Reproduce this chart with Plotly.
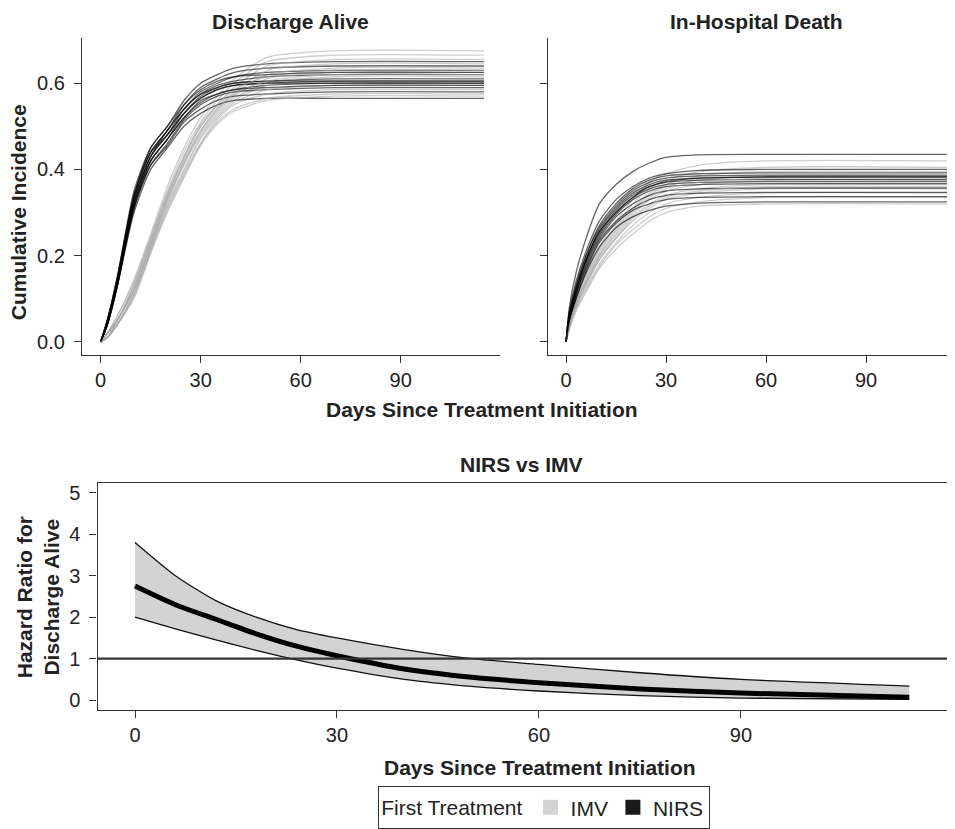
import plotly.graph_objects as go

FONT = "Liberation Sans, Arial, Helvetica, sans-serif"
PAGE_W, PAGE_H = 955, 829
BODY = 8  # default page margin around the plot div
W, H = PAGE_W - BODY, PAGE_H - BODY

# ---------------- data ----------------
x_ticks = [0, 30, 60, 90]
ci_ticks = [0.0, 0.2, 0.4, 0.6]
hr_ticks = [0, 1, 2, 3, 4, 5]

panel_titles = ["Discharge Alive", "In-Hospital Death"]
groups = ["IMV", "NIRS"]

# Discharge alive: cumulative incidence per imputation
days_discharge = [0, 2, 5, 10, 15, 20, 25, 30, 35, 40, 50, 70, 115]
nirs_discharge = [
    [0, 0.05, 0.15, 0.35, 0.45, 0.50, 0.56, 0.60, 0.62, 0.635, 0.645, 0.65, 0.65],
    [0, 0.05, 0.14, 0.34, 0.44, 0.49, 0.55, 0.59, 0.61, 0.625, 0.635, 0.64, 0.64],
    [0, 0.04, 0.14, 0.33, 0.43, 0.49, 0.54, 0.58, 0.60, 0.615, 0.625, 0.63, 0.63],
    [0, 0.05, 0.15, 0.34, 0.44, 0.48, 0.54, 0.575, 0.595, 0.605, 0.615, 0.62, 0.62],
    [0, 0.04, 0.13, 0.33, 0.43, 0.48, 0.53, 0.57, 0.59, 0.60, 0.605, 0.61, 0.61],
    [0, 0.05, 0.14, 0.32, 0.42, 0.47, 0.53, 0.565, 0.585, 0.595, 0.60, 0.605, 0.605],
    [0, 0.04, 0.13, 0.32, 0.42, 0.47, 0.52, 0.555, 0.575, 0.585, 0.595, 0.60, 0.60],
    [0, 0.04, 0.14, 0.31, 0.41, 0.46, 0.515, 0.55, 0.57, 0.58, 0.585, 0.59, 0.59],
    [0, 0.04, 0.13, 0.31, 0.41, 0.455, 0.51, 0.54, 0.56, 0.57, 0.575, 0.58, 0.58],
    [0, 0.04, 0.13, 0.30, 0.40, 0.45, 0.50, 0.53, 0.55, 0.56, 0.565, 0.565, 0.565],
    [0, 0.05, 0.14, 0.33, 0.44, 0.49, 0.54, 0.575, 0.59, 0.60, 0.605, 0.605, 0.605],
    [0, 0.04, 0.14, 0.32, 0.43, 0.48, 0.53, 0.565, 0.585, 0.595, 0.60, 0.60, 0.60],
    [0, 0.05, 0.15, 0.34, 0.45, 0.50, 0.55, 0.585, 0.605, 0.615, 0.62, 0.625, 0.625],
    [0, 0.04, 0.13, 0.31, 0.42, 0.47, 0.52, 0.56, 0.575, 0.585, 0.59, 0.595, 0.595],
]
imv_discharge = [
    [0, 0.02, 0.06, 0.145, 0.25, 0.36, 0.45, 0.52, 0.57, 0.61, 0.66, 0.675, 0.675],
    [0, 0.02, 0.06, 0.14, 0.245, 0.35, 0.44, 0.51, 0.56, 0.60, 0.65, 0.665, 0.665],
    [0, 0.02, 0.05, 0.135, 0.24, 0.345, 0.43, 0.505, 0.55, 0.59, 0.64, 0.655, 0.655],
    [0, 0.02, 0.05, 0.13, 0.235, 0.34, 0.425, 0.50, 0.545, 0.58, 0.63, 0.645, 0.645],
    [0, 0.01, 0.05, 0.125, 0.23, 0.335, 0.42, 0.49, 0.54, 0.575, 0.62, 0.635, 0.635],
    [0, 0.02, 0.05, 0.12, 0.225, 0.33, 0.415, 0.485, 0.535, 0.57, 0.61, 0.625, 0.625],
    [0, 0.01, 0.05, 0.12, 0.22, 0.325, 0.41, 0.48, 0.53, 0.565, 0.60, 0.615, 0.615],
    [0, 0.01, 0.04, 0.115, 0.22, 0.32, 0.40, 0.475, 0.525, 0.56, 0.595, 0.605, 0.605],
    [0, 0.01, 0.04, 0.11, 0.215, 0.315, 0.395, 0.47, 0.52, 0.555, 0.585, 0.595, 0.595],
    [0, 0.01, 0.04, 0.11, 0.21, 0.31, 0.39, 0.46, 0.515, 0.55, 0.575, 0.585, 0.585],
    [0, 0.01, 0.04, 0.105, 0.21, 0.305, 0.385, 0.46, 0.51, 0.54, 0.565, 0.575, 0.575],
    [0, 0.01, 0.04, 0.10, 0.205, 0.30, 0.38, 0.455, 0.505, 0.535, 0.56, 0.57, 0.57],
    [0, 0.02, 0.05, 0.13, 0.235, 0.34, 0.43, 0.50, 0.55, 0.585, 0.615, 0.63, 0.63],
    [0, 0.01, 0.05, 0.12, 0.225, 0.33, 0.415, 0.49, 0.54, 0.575, 0.605, 0.62, 0.62],
]

# In-hospital death: cumulative incidence per imputation
days_death = [0, 1, 3, 6, 10, 15, 20, 25, 30, 40, 60, 115]
nirs_death = [
    [0, 0.08, 0.16, 0.24, 0.32, 0.365, 0.395, 0.415, 0.428, 0.434, 0.435, 0.435],
    [0, 0.07, 0.14, 0.21, 0.28, 0.33, 0.36, 0.38, 0.39, 0.398, 0.40, 0.40],
    [0, 0.07, 0.13, 0.20, 0.27, 0.32, 0.355, 0.375, 0.385, 0.39, 0.392, 0.392],
    [0, 0.06, 0.13, 0.20, 0.265, 0.315, 0.35, 0.37, 0.38, 0.385, 0.387, 0.387],
    [0, 0.06, 0.12, 0.19, 0.26, 0.31, 0.345, 0.365, 0.375, 0.38, 0.382, 0.382],
    [0, 0.06, 0.12, 0.19, 0.255, 0.305, 0.34, 0.36, 0.37, 0.375, 0.377, 0.377],
    [0, 0.06, 0.12, 0.185, 0.25, 0.30, 0.335, 0.355, 0.365, 0.37, 0.372, 0.372],
    [0, 0.05, 0.11, 0.18, 0.245, 0.295, 0.33, 0.35, 0.36, 0.365, 0.367, 0.367],
    [0, 0.05, 0.11, 0.175, 0.24, 0.29, 0.32, 0.34, 0.35, 0.355, 0.357, 0.357],
    [0, 0.05, 0.11, 0.17, 0.235, 0.28, 0.31, 0.33, 0.34, 0.345, 0.347, 0.347],
    [0, 0.05, 0.10, 0.165, 0.23, 0.275, 0.305, 0.32, 0.33, 0.335, 0.337, 0.337],
    [0, 0.05, 0.10, 0.16, 0.22, 0.265, 0.29, 0.305, 0.315, 0.322, 0.325, 0.325],
    [0, 0.06, 0.12, 0.19, 0.255, 0.30, 0.335, 0.36, 0.372, 0.38, 0.383, 0.383],
]
imv_death = [
    [0, 0.05, 0.10, 0.16, 0.22, 0.28, 0.33, 0.37, 0.39, 0.41, 0.42, 0.42],
    [0, 0.05, 0.10, 0.155, 0.215, 0.27, 0.32, 0.355, 0.375, 0.395, 0.405, 0.405],
    [0, 0.04, 0.09, 0.15, 0.21, 0.265, 0.31, 0.345, 0.365, 0.385, 0.395, 0.395],
    [0, 0.04, 0.09, 0.145, 0.205, 0.26, 0.305, 0.34, 0.36, 0.375, 0.385, 0.385],
    [0, 0.04, 0.09, 0.14, 0.20, 0.25, 0.295, 0.33, 0.35, 0.365, 0.375, 0.375],
    [0, 0.04, 0.085, 0.135, 0.195, 0.245, 0.29, 0.32, 0.34, 0.355, 0.365, 0.365],
    [0, 0.04, 0.08, 0.13, 0.19, 0.24, 0.28, 0.31, 0.33, 0.345, 0.355, 0.355],
    [0, 0.03, 0.08, 0.125, 0.18, 0.23, 0.27, 0.30, 0.32, 0.335, 0.345, 0.345],
    [0, 0.03, 0.075, 0.12, 0.175, 0.225, 0.26, 0.29, 0.31, 0.325, 0.335, 0.335],
    [0, 0.03, 0.07, 0.115, 0.17, 0.215, 0.25, 0.28, 0.30, 0.315, 0.32, 0.32],
    [0, 0.04, 0.09, 0.14, 0.20, 0.255, 0.30, 0.335, 0.355, 0.37, 0.38, 0.38],
    [0, 0.04, 0.085, 0.135, 0.19, 0.24, 0.285, 0.315, 0.335, 0.35, 0.36, 0.36],
]

# Hazard ratio NIRS vs IMV for discharge alive
days_hr = [0, 6, 12, 18, 24, 30, 40, 50, 60, 75, 90, 115]
hr_est = [2.75, 2.3, 1.95, 1.6, 1.3, 1.07, 0.75, 0.55, 0.42, 0.27, 0.17, 0.07]
hr_lower = [2.0, 1.72, 1.45, 1.2, 0.97, 0.77, 0.5, 0.33, 0.22, 0.11, 0.05, 0.02]
hr_upper = [3.8, 3.0, 2.4, 2.0, 1.7, 1.5, 1.22, 1.0, 0.86, 0.66, 0.5, 0.34]

# ---------------- styling ----------------
NIRS_LINE = "rgba(0,0,0,0.6)"
IMV_LINE = "rgba(165,165,165,0.55)"
AX = "#333333"
SMOOTH = 0.7


def px(x):
    # page pixel -> paper fraction
    return (x - BODY) / W


def py(y):
    return 1 - (y - BODY) / H


def curve(xs, ys, color, xa, ya):
    return go.Scatter(x=xs, y=ys, mode="lines",
                      line=dict(color=color, width=1.3, shape="spline", smoothing=SMOOTH),
                      showlegend=False, hoverinfo="skip", xaxis=xa, yaxis=ya)


fig = go.Figure()

# top-left panel
for i in range(max(len(nirs_discharge), len(imv_discharge))):
    if i < len(imv_discharge):
        fig.add_trace(curve(days_discharge, imv_discharge[i], IMV_LINE, "x", "y"))
    if i < len(nirs_discharge):
        fig.add_trace(curve(days_discharge, nirs_discharge[i], NIRS_LINE, "x", "y"))

# top-right panel
for i in range(max(len(nirs_death), len(imv_death))):
    if i < len(imv_death):
        fig.add_trace(curve(days_death, imv_death[i], IMV_LINE, "x2", "y2"))
    if i < len(nirs_death):
        fig.add_trace(curve(days_death, nirs_death[i], NIRS_LINE, "x2", "y2"))

# bottom panel: CI band and estimate
fig.add_trace(go.Scatter(x=days_hr, y=hr_lower, mode="lines",
                         line=dict(color="#111111", width=1.3, shape="spline", smoothing=SMOOTH),
                         showlegend=False, xaxis="x3", yaxis="y3"))
fig.add_trace(go.Scatter(x=days_hr, y=hr_upper, mode="lines", fill="tonexty",
                         fillcolor="#d3d3d3",
                         line=dict(color="#111111", width=1.3, shape="spline", smoothing=SMOOTH),
                         showlegend=False, xaxis="x3", yaxis="y3"))
fig.add_trace(go.Scatter(x=days_hr, y=hr_est, mode="lines",
                         line=dict(color="#000000", width=5, shape="spline", smoothing=SMOOTH),
                         showlegend=False, xaxis="x3", yaxis="y3"))

# legend keys
fig.add_trace(go.Scatter(x=[None], y=[None], mode="markers", name=groups[0],
                         marker=dict(symbol="square", size=15, color="#d3d3d3"),
                         xaxis="x3", yaxis="y3"))
fig.add_trace(go.Scatter(x=[None], y=[None], mode="markers", name=groups[1],
                         marker=dict(symbol="square", size=15, color="#1a1a1a"),
                         xaxis="x3", yaxis="y3"))

common_ax = dict(showgrid=False, zeroline=False, showline=True, linecolor=AX, linewidth=1.2,
                 ticks="outside", ticklen=7, tickwidth=1.1, tickcolor=AX,
                 tickfont=dict(family=FONT, size=20, color="#222222"))

fig.update_layout(
    width=W, height=H,
    margin=dict(l=0, r=0, t=0, b=0),
    paper_bgcolor="white", plot_bgcolor="white",
    font=dict(family=FONT, color="#222222"),
    xaxis=dict(domain=[px(82), px(500)], range=[-5.6, 119.8], tickvals=x_ticks,
               anchor="y", **common_ax),
    yaxis=dict(domain=[py(355.5), py(38)], range=[-0.0306, 0.705], tickvals=ci_ticks,
               tickformat=".1f", anchor="x", ticklabelstandoff=5, **common_ax),
    xaxis2=dict(domain=[px(547.7), 1.0], range=[-5.5, 116.7], tickvals=x_ticks,
                anchor="y2", **common_ax),
    yaxis2=dict(domain=[py(355.5), py(38)], range=[-0.0306, 0.705], tickvals=ci_ticks,
                showticklabels=False, anchor="x2", **common_ax),
    xaxis3=dict(domain=[px(97.5), px(951.7)], range=[-5.57, 121.3], tickvals=x_ticks,
                anchor="y3", mirror=True, **common_ax),
    yaxis3=dict(domain=[py(711), py(483.3)], range=[-0.241, 5.241], tickvals=hr_ticks,
                anchor="x3", mirror=True, ticklabelstandoff=5, **common_ax),
    legend=dict(orientation="h", x=px(544), xanchor="center", y=py(787), yanchor="top",
                bordercolor=AX, borderwidth=1.2, bgcolor="white",
                font=dict(family=FONT, size=21, color="#222222"),
                title=dict(text="First Treatment", font=dict(family=FONT, size=21, color="#222222")),
                itemwidth=30, traceorder="normal"),
    shapes=[dict(type="line", xref="x3 domain", yref="y3", x0=0, x1=1, y0=1, y1=1,
                 line=dict(color=AX, width=2.2), layer="above")],
)

bold = dict(family=FONT, size=21, color="#222222")
annos = [
    dict(text="<b>" + panel_titles[0] + "</b>", x=px(290.5), y=1.0, yanchor="top"),
    dict(text="<b>" + panel_titles[1] + "</b>", x=px(756), y=1.0, yanchor="top"),
    dict(text="<b>Cumulative Incidence</b>", x=px(18), y=py(212.5), textangle=-90),
    dict(text="<b>Days Since Treatment Initiation</b>", x=px(482), y=py(410)),
    dict(text="<b>NIRS vs IMV</b>", x=px(521), y=py(465)),
    dict(text="<b>Hazard Ratio for<br>Discharge Alive</b>", x=px(38), y=py(598), textangle=-90),
    dict(text="<b>Days Since Treatment Initiation</b>", x=px(540), y=py(768)),
]
for a in annos:
    a.setdefault("yanchor", "middle")
    fig.add_annotation(xref="paper", yref="paper", showarrow=False, xanchor="center",
                       font=bold, **a)

fig.write_html("out.html")
